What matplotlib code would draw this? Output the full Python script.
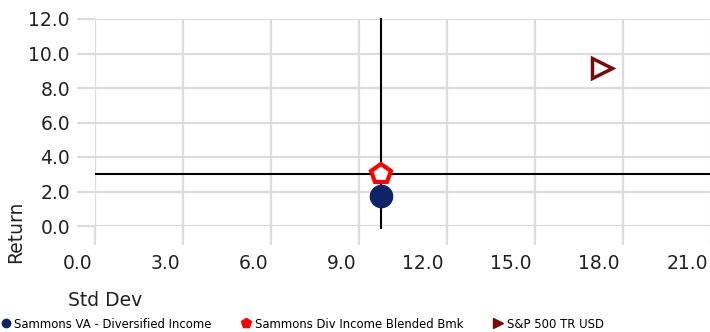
import matplotlib
matplotlib.use("Agg")
import matplotlib.pyplot as plt
from matplotlib.lines import Line2D
import matplotlib.transforms as mtrans

# Data
names = ["Sammons VA - Diversified Income", "Sammons Div Income Blended Bmk", "S&P 500 TR USD"]
std_dev = [9.75, 9.75, 17.3]
returns = [1.74, 3.0, 9.15]
x_ticks = [0.0, 3.0, 6.0, 9.0, 12.0, 15.0, 18.0, 21.0]
y_ticks = [0.0, 2.0, 4.0, 6.0, 8.0, 10.0, 12.0]
bench_std = 9.75
bench_ret = 3.0

fig = plt.figure(figsize=(7.10, 3.32), dpi=100)
ax = fig.add_axes([95/710, 106/332, 616/710, 207/332])
ax.set_xlim(0, 21)
ax.set_ylim(0, 12)
for s in ax.spines.values():
    s.set_visible(False)

grid_c = "#dcdcdc"
ax.set_xticks(x_ticks)
ax.set_yticks(y_ticks)
ax.grid(True, color=grid_c, linewidth=1.6, zorder=0)
ax.set_axisbelow(True)
ax.tick_params(axis="both", color=grid_c, width=1.6, labelsize=13.5, labelcolor="#222222")
ax.tick_params(axis="x", length=14, pad=6)
ax.tick_params(axis="y", length=13, pad=5)
ax.set_xticklabels([f"{v:.1f}" for v in x_ticks])
ax.set_yticklabels([f"{v:.1f}" for v in y_ticks])
off = mtrans.ScaledTranslation(-3/100, 0, fig.dpi_scale_trans)
for lab in ax.get_xticklabels():
    lab.set_horizontalalignment("right")
    lab.set_transform(lab.get_transform() + off)

# crosshair lines
ax.plot([0.05, 21], [bench_ret, bench_ret], color="black", lw=1.5, zorder=2, clip_on=False)
ax.plot([bench_std, bench_std], [-0.1, 12], color="black", lw=1.5, zorder=2, clip_on=False)

# markers
ax.plot(std_dev[0], returns[0], marker="o", markersize=16, color="#0f2468",
        linestyle="none", zorder=4, clip_on=False)
ax.plot(std_dev[1], returns[1], marker="p", markersize=15, markerfacecolor="white",
        markeredgecolor="#ff0000", markeredgewidth=3, linestyle="none", zorder=5, clip_on=False)
ax.plot(std_dev[2], returns[2], marker=">", markersize=15, markerfacecolor="white",
        markeredgecolor="#7a0a0a", markeredgewidth=2.5, linestyle="none", zorder=5, clip_on=False)

fig.text(16/710, 1 - 232/332, "Return", rotation=90, ha="center", va="center",
         fontsize=13.5, color="#222222")
fig.text(68/710, 1 - 301/332, "Std Dev", ha="left", va="center",
         fontsize=13.5, color="#222222")

handles = [
    Line2D([], [], marker="o", color="#0f2468", linestyle="none", markersize=6),
    Line2D([], [], marker="p", color="#ff0000", linestyle="none", markersize=7),
    Line2D([], [], marker=">", color="#7a0a0a", linestyle="none", markersize=7),
]
fig.legend(handles, names, loc="center left", bbox_to_anchor=(-2/710, 1 - 324/332),
           ncol=3, frameon=False, fontsize=8.4, handlelength=0.9, handletextpad=0.3,
           columnspacing=2.5, borderaxespad=0, borderpad=0.2)

fig.savefig("out.png", dpi=100)
